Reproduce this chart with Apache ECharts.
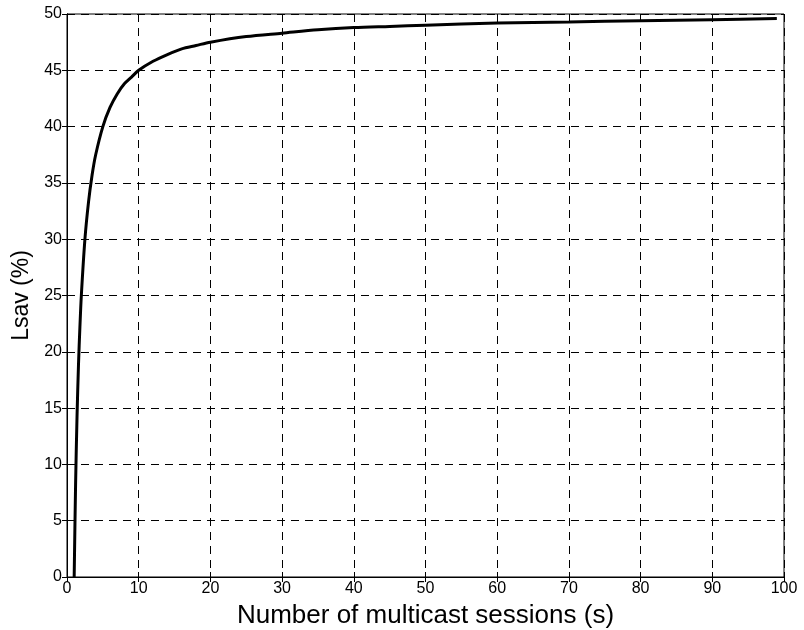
<!DOCTYPE html>
<html>
<head>
<meta charset="utf-8">
<script src="https://cdn.jsdelivr.net/npm/echarts@6/dist/echarts.min.js"></script>
<style>
  html, body { margin: 0; padding: 0; background: #fff; }
  #chart { width: 804px; height: 630px; }
</style>
</head>
<body>
<div id="chart"></div>
<script>
// Number of multicast sessions (s)
const sessions = [1, 1.2, 1.4, 1.6, 1.8, 2, 2.5, 3, 3.5, 4, 5, 6, 7, 8, 9, 10,
  12, 14, 16, 18, 20, 25, 30, 35, 40, 45, 50, 60, 70, 80, 90, 99];
// Lsav (%) for each session count
const lsav = [0, 8.3, 14.3, 18.8, 22.2, 25, 30, 33.3, 35.7, 37.5, 40, 41.7, 42.9, 43.8, 44.4, 45,
  45.8, 46.4, 46.9, 47.2, 47.5, 48, 48.3, 48.6, 48.8, 48.9, 49, 49.2, 49.3, 49.4, 49.5, 49.6];

const xTicks = [0, 10, 20, 30, 40, 50, 60, 70, 80, 90, 100];
const yTicks = [0, 5, 10, 15, 20, 25, 30, 35, 40, 45, 50];

const font = '"Liberation Sans", Arial, Helvetica, sans-serif';
const chart = echarts.init(document.getElementById('chart'), null, { renderer: 'canvas' });

const gridLine = { show: true, lineStyle: { color: '#000', type: [8, 6], width: 1 } };
const tick = { show: true, inside: true, length: 5, lineStyle: { color: '#000' } };

chart.setOption({
  animation: false,
  backgroundColor: '#fff',
  grid: {
    left: 67, right: 20, top: 14, bottom: 53,
    outerBoundsMode: 'none', containLabel: false,
    show: true, borderColor: '#000', borderWidth: 1
  },
  xAxis: [{
    type: 'value', min: xTicks[0], max: xTicks[xTicks.length - 1], interval: 10,
    name: 'Number of multicast sessions (s)', nameLocation: 'middle', nameGap: 26,
    nameTextStyle: { fontFamily: font, fontSize: 26, color: '#000' },
    axisLine: { show: true, lineStyle: { color: '#000' } },
    axisTick: tick,
    axisLabel: { fontFamily: font, fontSize: 16, color: '#000', margin: 4 },
    splitLine: gridLine
  }, {
    type: 'value', position: 'top', min: xTicks[0], max: xTicks[xTicks.length - 1], interval: 10,
    axisLine: { show: true, lineStyle: { color: '#000' } },
    axisTick: tick, axisLabel: { show: false }, splitLine: { show: false }
  }],
  yAxis: [{
    type: 'value', min: yTicks[0], max: yTicks[yTicks.length - 1], interval: 5,
    name: 'Lsav (%)', nameLocation: 'middle', nameGap: 32, nameRotate: 90,
    nameTextStyle: { fontFamily: font, fontSize: 23, color: '#000' },
    axisLine: { show: true, lineStyle: { color: '#000' } },
    axisTick: tick,
    axisLabel: { fontFamily: font, fontSize: 16, color: '#000', margin: 5 },
    splitLine: gridLine
  }, {
    type: 'value', position: 'right', min: yTicks[0], max: yTicks[yTicks.length - 1], interval: 5,
    axisLine: { show: true, lineStyle: { color: '#000' } },
    axisTick: tick, axisLabel: { show: false }, splitLine: { show: false }
  }],
  series: [{
    type: 'line',
    data: sessions.map((s, i) => [s, lsav[i]]),
    smooth: 0.3,
    showSymbol: false,
    lineStyle: { color: '#000', width: 3 },
    z: 5
  }]
});
</script>
</body>
</html>
